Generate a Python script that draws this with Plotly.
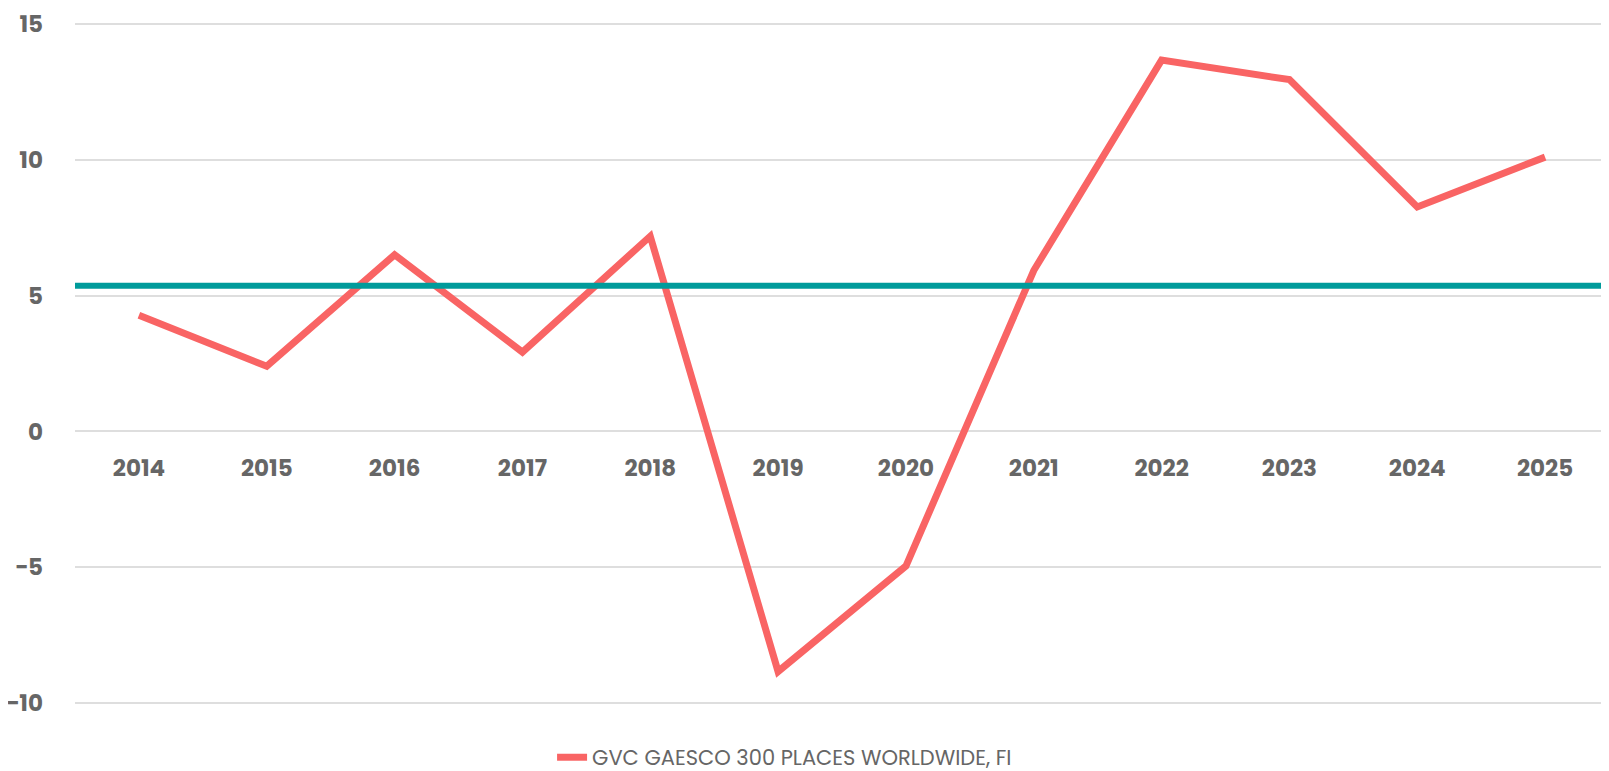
"""Line chart: yearly returns of a fund vs. its average."""

import plotly.graph_objects as go


years = ["2014", "2015", "2016", "2017", "2018", "2019",
         "2020", "2021", "2022", "2023", "2024", "2025"]
fund_returns = [4.27, 2.40, 6.50, 2.92, 7.18, -8.83,
                -4.95, 5.92, 13.66, 12.94, 8.26, 10.09]
average_return = 5.36

series_name = "GVC GAESCO 300 PLACES WORLDWIDE, FI"
y_ticks = [-10, -5, 0, 5, 10, 15]

COLORS = {
    "fund": "#f96464",
    "average": "#009b9b",
    "grid": "#dedede",
    "text": "#666666",
}

FONT = "Poppins, 'Open Sans', sans-serif"

fig = go.Figure()

fig.add_trace(
    go.Scatter(
        x=years,
        y=fund_returns,
        mode="lines",
        name=series_name,
        line=dict(color=COLORS["fund"], width=7),
    )
)

# average line across the whole plot
fig.add_hline(y=average_return, line=dict(color=COLORS["average"], width=6), layer="above")

# page body has an 8px margin, so the figure is a bit smaller than the window
fig.update_layout(
    width=1601,
    height=763,
    margin=dict(l=67, r=0, t=14, b=66, autoexpand=False),
    paper_bgcolor="white",
    plot_bgcolor="white",
    font=dict(family=FONT, color=COLORS["text"]),
    showlegend=True,
    legend=dict(
        orientation="h",
        x=0.311,
        xanchor="left",
        y=-0.077,
        yanchor="middle",
        font=dict(size=21, color=COLORS["text"]),
        bgcolor="rgba(0,0,0,0)",
    ),
    xaxis=dict(
        type="category",
        range=[-0.5, len(years) - 0.5],
        anchor="free",
        position=0.4,
        automargin=False,
        showgrid=False,
        showline=False,
        zeroline=False,
        ticks="",
        ticklabelstandoff=20,
        tickfont=dict(size=23, family=FONT, weight="bold", color=COLORS["text"]),
    ),
    yaxis=dict(
        range=[-10.06, 15.06],
        tickvals=y_ticks,
        automargin=False,
        ticklabeloverflow="allow",
        showgrid=True,
        gridcolor=COLORS["grid"],
        gridwidth=2,
        zeroline=False,
        showline=False,
        ticks="",
        ticklabelstandoff=31,
        tickfont=dict(size=23, family=FONT, weight="bold", color=COLORS["text"]),
    ),
)

fig.write_html("out.html")
